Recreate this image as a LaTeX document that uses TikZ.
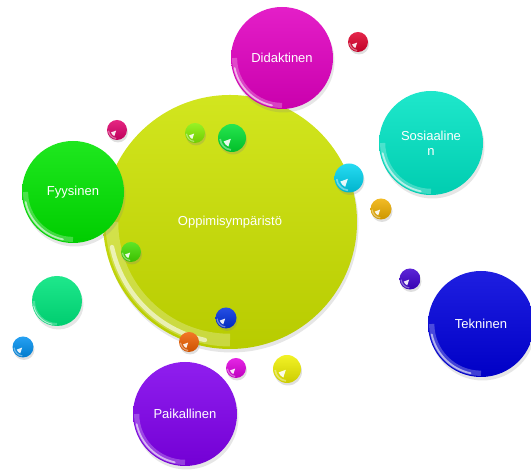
\documentclass[tikz,border=0pt]{standalone}
\usepackage{fontspec}
\setmainfont{Liberation Sans}
\usetikzlibrary{shadows}
\definecolor{oppi}{HTML}{CCE200}
\definecolor{dida}{HTML}{E000C0}
\definecolor{sos}{HTML}{00E4C4}
\definecolor{fyy}{HTML}{00E400}
\definecolor{tek}{HTML}{0000DC}
\definecolor{pai}{HTML}{8000EC}
\definecolor{spring}{HTML}{00E47C}
\definecolor{beadred}{HTML}{E0002C}
\definecolor{beadcrim}{HTML}{E0006C}
\definecolor{beadlime}{HTML}{84F000}
\definecolor{beadgreen}{HTML}{00E030}
\definecolor{beadcyan}{HTML}{00D4F0}
\definecolor{beadamber}{HTML}{F0B000}
\definecolor{beadgrn}{HTML}{44E000}
\definecolor{beadblue}{HTML}{0030E0}
\definecolor{beadorange}{HTML}{F06000}
\definecolor{beadmag}{HTML}{E000E0}
\definecolor{beadyellow}{HTML}{F0F000}
\definecolor{beadindigo}{HTML}{4000D0}
\definecolor{beadazure}{HTML}{0090F0}
\tikzset{
  bubble/.style 2 args={circle, inner sep=0pt, minimum size={2*#1pt},
    top color=#2!88!white, bottom color=#2!90!black,
    text=white, align=center, font=\fontsize{13}{15}\selectfont,
    drop shadow={shadow xshift=1.5pt, shadow yshift=-3.5pt, opacity=.2},
    path picture={
      \draw[white, opacity=.25, line width={0.1*#1pt}]
        ([shift={(180:{0.93*#1pt})}]path picture bounding box.center)
        arc[start angle=180, end angle=270, radius={0.93*#1pt}];
      \draw[white, opacity=.6, line width={0.035*#1pt}, line cap=round]
        ([shift={(192:{0.95*#1pt})}]path picture bounding box.center)
        arc[start angle=192, end angle=258, radius={0.95*#1pt}];
    }},
  bead/.style 2 args={circle, inner sep=0pt, minimum size={2*#1pt},
    top color=#2!85!white, bottom color=#2!85!black,
    drop shadow={shadow xshift=1pt, shadow yshift=-2.5pt, opacity=.25},
    path picture={
      \fill[white, opacity=.9] (path picture bounding box.center)
        ++(215:{0.1*#1pt}) -- ++(200:{0.55*#1pt})
        arc[start angle=200, end angle=245, radius={0.65*#1pt}] -- cycle;
      \draw[white, opacity=.4, line width={0.12*#1pt}]
        ([shift={(185:{0.85*#1pt})}]path picture bounding box.center)
        arc[start angle=185, end angle=265, radius={0.85*#1pt}];
    }}
}
\begin{document}
\begin{tikzpicture}[x=1pt, y=1pt]
  \useasboundingbox (0,0) rectangle (531,470);
  % main circle and its topics
  \node[bubble={127}{oppi}] (oppi) at (230,248) {Oppimisympäristö};
  \node[bubble={51}{dida}] (dida) at (282,412) {Didaktinen};
  \node[bubble={52}{sos}] (sos) at (431,327) {Sosiaaline\\n};
  \node[bubble={51}{fyy}] (fyy) at (73,278) {Fyysinen};
  \node[bubble={53}{tek}] (tek) at (481,146) {Tekninen};
  \node[bubble={52}{pai}] (pai) at (185,56) {Paikallinen};
  \node[bubble={25}{spring}] (spring) at (57,169) {};
  % small beads
  \node[bead={10}{beadred}] (red) at (358,428) {};
  \node[bead={10}{beadcrim}] (crim) at (117,340) {};
  \node[bead={10}{beadlime}] (lime) at (195,337) {};
  \node[bead={14}{beadgreen}] (green) at (232,332) {};
  \node[bead={14.5}{beadcyan}] (cyan) at (349,292) {};
  \node[bead={10.5}{beadamber}] (amber) at (381,261) {};
  \node[bead={10}{beadgrn}] (grn) at (131,218) {};
  \node[bead={10.5}{beadblue}] (blue) at (226,152) {};
  \node[bead={10}{beadorange}] (orange) at (189,128) {};
  \node[bead={10}{beadmag}] (mag) at (236,102) {};
  \node[bead={14}{beadyellow}] (yellow) at (287,101) {};
  \node[bead={10.5}{beadindigo}] (indigo) at (410,191) {};
  \node[bead={10.5}{beadazure}] (azure) at (23,123) {};
\end{tikzpicture}
\end{document}
